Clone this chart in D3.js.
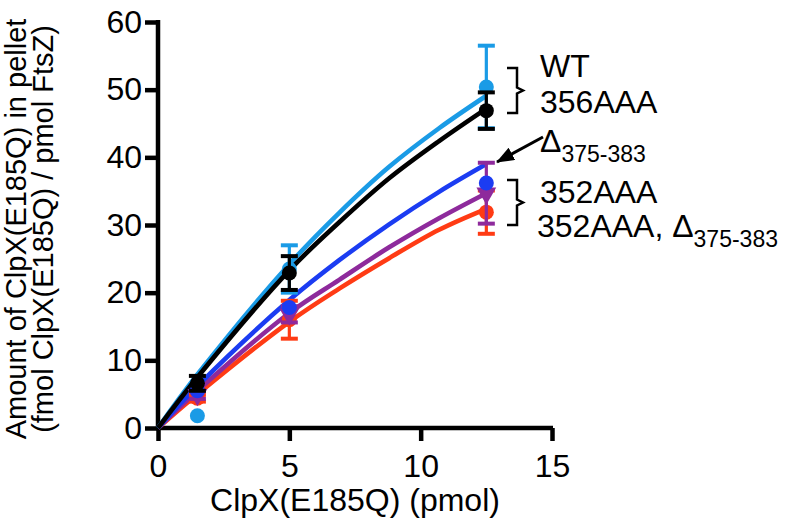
<!DOCTYPE html>
<html><head><meta charset="utf-8">
<script src="https://cdn.jsdelivr.net/npm/d3@7"></script>
<style>body{margin:0;background:#fff}svg{display:block;font-family:"Liberation Sans",Arial,sans-serif}</style>
</head><body>
<svg id="c" width="787" height="531"></svg>
<script>
// Data
const xPoints = [1.5, 5, 12.5];
const wtY = [1.8, 23.5, 50.4];
const wtErr = [0.0, 3.5, 6.1];
const aaa356Y = [6.6, 22.9, 46.9];
const aaa356Err = [1.1, 2.5, 2.7];
const delY = [5.5, 17.8, 36.2];
const delErr = [0, 0, 0];
const aaa352DelY = [4.9, 16.8, 34.7];
const aaa352DelErr = [0.6, 1.2, 4.5];
const aaa352Y = [4.4, 16.0, 31.9];
const aaa352Err = [0.5, 2.8, 3.2];
// fitted curves sampled from the figure
const fitX = [0, 1.5, 5, 6.9, 8.8, 10.7, 12.5];
const wtFit = [0, 7.9, 24.2, 31.8, 38.6, 44.3, 49.1];
const aaa356Fit = [0, 7.5, 23.3, 30.4, 36.9, 42.4, 47.2];
const delFit = [0, 6.2, 18.9, 24.8, 30.1, 34.9, 39.0];
const aaa352DelFit = [0, 5.5, 17.0, 21.9, 26.7, 31.0, 34.7];
const aaa352Fit = [0, 5.0, 15.7, 20.6, 25.1, 29.3, 32.4];
const xTicks = [0, 5, 10, 15];
const yTicks = [0, 10, 20, 30, 40, 50, 60];

const series = [
  {name:"352AAA", y:aaa352Y, e:aaa352Err, fit:aaa352Fit, color:"#ff3b14", sym:"circle"},
  {name:"352AAA, Δ", y:aaa352DelY, e:aaa352DelErr, fit:aaa352DelFit, color:"#8e2a9c", sym:"tri"},
  {name:"Δ375-383", y:delY, e:delErr, fit:delFit, color:"#1b3cf2", sym:"circle"},
  {name:"WT", y:wtY, e:wtErr, fit:wtFit, color:"#1a9be6", sym:"circle"},
  {name:"356AAA", y:aaa356Y, e:aaa356Err, fit:aaa356Fit, color:"#000000", sym:"circle"}
];

const svg = d3.select("#c");
const x = d3.scaleLinear().domain([0,15]).range([158,552]);
const y = d3.scaleLinear().domain([0,60]).range([428,22]);

// axes
const xa = svg.append("g").attr("transform","translate(0,428)")
  .call(d3.axisBottom(x).tickValues(xTicks).tickSize(13).tickPadding(13).tickFormat(d3.format("d")));
const ya = svg.append("g").attr("transform","translate(158,0)")
  .call(d3.axisLeft(y).tickValues(yTicks).tickSize(13).tickPadding(3).tickFormat(d3.format("d")));
[xa,ya].forEach(a=>{
  a.select(".domain").attr("stroke","#000").attr("stroke-width",4.5);
  a.selectAll(".tick line").attr("stroke","#000").attr("stroke-width",4.5);
  a.selectAll(".tick text").attr("font-size",32).attr("fill","#000").attr("font-family","Liberation Sans, Arial");
});
xa.select(".domain").attr("d","M156,0H553");
ya.select(".domain").attr("d","M0,20V430");

// curves
const line = d3.line().x((d,i)=>x(fitX[i])).y(d=>y(d)).curve(d3.curveCatmullRom.alpha(0.5));
series.forEach(s=>{
  svg.append("path").attr("d",line(s.fit)).attr("fill","none")
    .attr("stroke",s.color).attr("stroke-width",4.6);
});
// error bars and markers
series.forEach(s=>{
  const g = svg.append("g");
  xPoints.forEach((xv,i)=>{
    const e = s.e[i];
    if(e>0){
      const cx = x(xv), t = y(s.y[i]+e), b = y(s.y[i]-e);
      g.append("line").attr("x1",cx).attr("x2",cx).attr("y1",t).attr("y2",b).attr("stroke",s.color).attr("stroke-width",3.2);
      [t,b].forEach(yy=>g.append("line").attr("x1",cx-8.5).attr("x2",cx+8.5).attr("y1",yy).attr("y2",yy).attr("stroke",s.color).attr("stroke-width",4));
    }
    if(s.sym==="tri"){
      g.append("path").attr("d",d3.symbol().type(d3.symbolTriangle).size(170)())
        .attr("transform",`translate(${x(xv)},${y(s.y[i])}) rotate(180)`).attr("fill",s.color);
    } else {
      g.append("circle").attr("cx",x(xv)).attr("cy",y(s.y[i])).attr("r",7.5).attr("fill",s.color);
    }
  });
});

// axis titles
svg.append("text").attr("x",355).attr("y",511).attr("text-anchor","middle").attr("font-size",32).text("ClpX(E185Q) (pmol)");
const yl = svg.append("text").attr("transform","translate(0,229) rotate(-90)").attr("text-anchor","middle").attr("font-size",29);
yl.append("tspan").attr("x",0).attr("y",26).text("Amount of ClpX(E185Q) in pellet");
yl.append("tspan").attr("x",0).attr("y",53).text("(fmol ClpX(E185Q) / pmol FtsZ)");

// annotations
const ann = svg.append("g").attr("font-size",32).attr("fill","#000");
ann.append("text").attr("x",540).attr("y",77).text("WT");
ann.append("text").attr("x",540).attr("y",113).text("356AAA");
const d1 = ann.append("text").attr("x",540).attr("y",152);
d1.append("tspan").text("Δ");
d1.append("tspan").attr("dy",10).attr("font-size",23).text("375-383");
ann.append("text").attr("x",540).attr("y",203).text("352AAA");
const d2 = ann.append("text").attr("x",537).attr("y",237);
d2.append("tspan").text("352AAA, Δ");
d2.append("tspan").attr("dy",10).attr("font-size",23).text("375-383");

function brace(y0,y1){
  const m=(y0+y1)/2, xl=507, xr=517;
  return `M${xl},${y0}H${xr}V${m-3}L${xr+6},${m}L${xr},${m+3}V${y1}H${xl}`;
}
svg.append("path").attr("d",brace(68,113)).attr("fill","none").attr("stroke","#000").attr("stroke-width",2.5);
svg.append("path").attr("d",brace(180,225)).attr("fill","none").attr("stroke","#000").attr("stroke-width",2.5);

// arrow
svg.append("defs").append("marker").attr("id","ah").attr("viewBox","0 0 18 14").attr("refX",17).attr("refY",7)
  .attr("markerWidth",18).attr("markerHeight",14).attr("markerUnits","userSpaceOnUse").attr("orient","auto")
  .append("path").attr("d","M0,0L18,7L0,14z").attr("fill","#000");
svg.append("line").attr("x1",543).attr("y1",137).attr("x2",497).attr("y2",162)
  .attr("stroke","#000").attr("stroke-width",3).attr("marker-end","url(#ah)");
</script>
</body></html>
